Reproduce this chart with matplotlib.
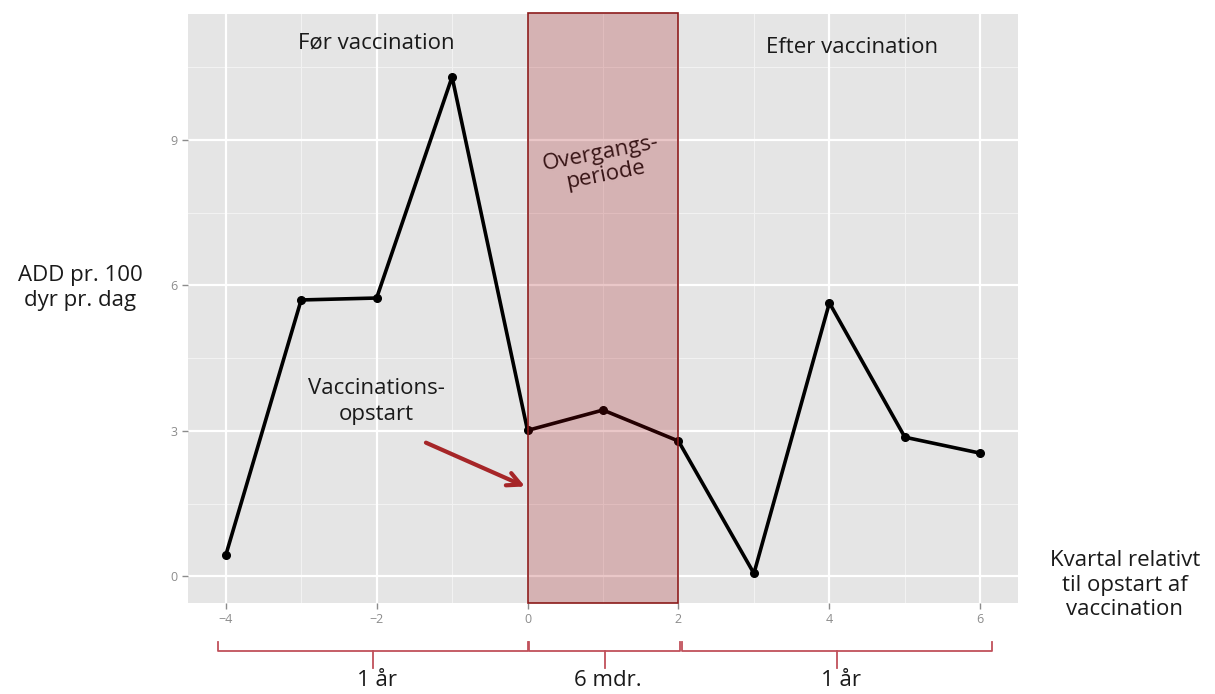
import matplotlib.pyplot as plt
import matplotlib.transforms as mtransforms
from matplotlib.patches import Rectangle

# data
kvartal = [-4, -3, -2, -1, 0, 1, 2, 3, 4, 5, 6]
add_vaerdi = [0.43, 5.70, 5.74, 10.30, 3.01, 3.43, 2.79, 0.06, 5.64, 2.87, 2.54]
x_ticks = [-4, -2, 0, 2, 4, 6]
y_ticks = [0, 3, 6, 9]
perioder = [(-4.1, 0.0, "1 år"), (0.02, 2.02, "6 mdr."), (2.05, 6.15, "1 år")]

plt.rcParams['font.family'] = ['Open Sans', 'DejaVu Sans']
fs = 16

fig = plt.figure(figsize=(12.15, 6.94), dpi=100)
ax = fig.add_axes([0.1547, 0.1311, 0.6832, 0.8489])
ax.set_facecolor('#E5E5E5')
ax.set_xlim(-4.5, 6.5)
ax.set_ylim(-0.55, 11.6)

# ggplot-like grid
for v in [-3, -1, 1, 3, 5]:
	ax.axvline(v, color='#F2F2F2', lw=0.8, zorder=0)
for v in [1.5, 4.5, 7.5, 10.5]:
	ax.axhline(v, color='#F2F2F2', lw=0.8, zorder=0)
for v in x_ticks:
	ax.axvline(v, color='white', lw=1.6, zorder=0)
for v in y_ticks:
	ax.axhline(v, color='white', lw=1.6, zorder=0)

for s in ax.spines.values():
	s.set_visible(False)
ax.set_xticks(x_ticks)
ax.set_xticklabels(['\u22124', '\u22122', '0', '2', '4', '6'])
ax.set_yticks(y_ticks)
ax.tick_params(colors='#8C8C8C', labelsize=9, length=4, width=1, labelcolor='#8C8C8C')

ax.plot(kvartal, add_vaerdi, color='black', lw=2.6, marker='o', ms=5.5, zorder=2)

ax.text(1.0, 8.5, "Overgangs-\nperiode", ha='center', va='center', fontsize=fs,
	color='#1A1A1A', rotation=11, linespacing=1.1, zorder=2.5)

# overgangsperiode box drawn over the line
ax.add_patch(Rectangle((0, -0.55), 2, 12.17, facecolor='#A00005', alpha=0.22,
	edgecolor='none', zorder=3, clip_on=False))
ax.add_patch(Rectangle((0, -0.55), 2, 12.17, facecolor='none',
	edgecolor='#8B1A1A', lw=1.2, zorder=4, clip_on=False))

ax.text(-2.0, 11.0, "Før vaccination", ha='center', va='center', fontsize=fs, color='#1A1A1A')
ax.text(4.3, 10.9, "Efter vaccination", ha='center', va='center', fontsize=fs, color='#1A1A1A')
ax.text(-2.0, 3.6, "Vaccinations-\nopstart", ha='center', va='center', fontsize=fs,
	color='#1A1A1A', linespacing=1.3, zorder=5)
ax.annotate("", xy=(0.0, 1.83), xytext=(-1.38, 2.78),
	arrowprops=dict(arrowstyle='->', color='#A62628', lw=3, mutation_scale=24), zorder=5)

fig.text(80 / 1215, 1 - 288 / 694, "ADD pr. 100\ndyr pr. dag", ha='center', va='center',
	fontsize=fs, color='#1A1A1A', linespacing=1.25)
fig.text(1125 / 1215, 1 - 585 / 694, "Kvartal relativt\ntil opstart af\nvaccination",
	ha='center', va='center', fontsize=fs, color='#1A1A1A', linespacing=1.2)

# brackets under the axis
trans = mtransforms.blended_transform_factory(ax.transData, fig.transFigure)
yb = 1 - 651 / 694
yend = 1 - 642 / 694
ymid = 1 - 668 / 694
for a, b, lbl in perioder:
	m = (a + b) / 2
	ax.plot([a, a, b, b], [yend, yb, yb, yend], color='#C0505A', lw=1.3,
		transform=trans, clip_on=False)
	ax.plot([m, m], [yb, ymid], color='#C0505A', lw=1.3, transform=trans, clip_on=False)
	ax.text(m + 0.05, 1 - 680 / 694, lbl, ha='center', va='center', fontsize=fs,
		color='#1A1A1A', transform=trans, clip_on=False)

fig.savefig('out.png', dpi=100)
